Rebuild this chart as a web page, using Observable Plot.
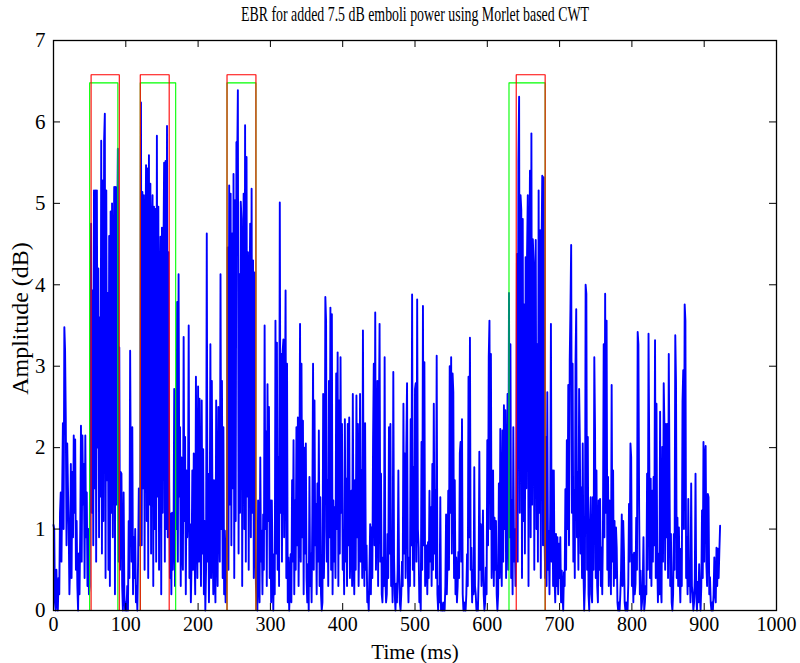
<!DOCTYPE html>
<html><head><meta charset="utf-8">
<script src="https://cdn.jsdelivr.net/npm/d3@7"></script>
<script src="https://cdn.jsdelivr.net/npm/@observablehq/plot@0.6"></script>
<style>
html,body{margin:0;padding:0;background:#fff;}
</style></head><body>
<div id="chart"></div>
<script>
const titleText = "EBR for added 7.5 dB emboli power using Morlet based CWT";
const xLabel = "Time (ms)";
const yLabel = "Amplitude (dB)";
const xTicks = [0, 100, 200, 300, 400, 500, 600, 700, 800, 900, 1000];
const yTicks = [0, 1, 2, 3, 4, 5, 6, 7];

// EBR amplitude (dB), one sample per millisecond starting at 0 ms
const timeStepMs = 1;
const amplitude = [
1.05,1.0,0.1,0.0,0.5,0.1,0.0,0.4,0.2,1.2,
1.45,0.6,1.45,2.3,1.0,3.48,3.2,2.35,0.8,2.05,
1.5,1.05,0.2,0.6,1.8,0.4,1.7,0.9,2.15,1.2,
2.1,0.5,1.1,0.3,0.0,0.7,0.2,1.0,2.27,0.6,
2.15,1.3,1.8,0.4,2.15,0.9,1.45,0.3,1.0,0.2,
0.3,3.0,4.75,1.2,3.93,0.8,5.16,1.5,5.16,0.6,
5.16,2.0,4.2,0.9,3.6,1.4,5.77,0.7,5.28,1.1,
5.77,6.1,0.4,5.16,1.6,3.9,0.5,4.6,0.3,4.9,
1.2,5.0,0.9,4.1,5.2,0.2,5.2,1.3,4.4,5.67,
0.6,3.23,0.5,1.7,1.68,0.3,0.0,1.45,0.2,0.0,
0.1,0.0,0.3,0.0,1.1,0.4,3.19,1.5,0.6,2.25,
0.2,0.9,0.4,1.0,0.1,0.3,0.0,0.6,1.5,0.8,
1.2,6.24,0.8,5.14,1.5,5.1,0.5,4.2,5.47,1.1,
5.43,0.4,5.59,1.3,5.24,0.7,4.6,5.1,0.3,4.96,
1.0,4.93,0.6,5.83,1.4,4.96,0.5,3.8,4.59,0.2,
4.7,1.2,4.3,5.5,0.6,5.52,1.0,5.95,0.9,4.4,
1.6,0.4,1.19,0.2,1.2,0.5,0.9,2.72,0.3,2.7,
1.0,3.79,0.6,4.13,1.4,2.25,0.3,1.88,0.8,0.5,
3.36,1.1,2.13,0.2,1.72,0.9,1.3,3.5,0.4,1.06,
0.1,0.6,1.72,0.5,1.93,0.8,0.2,2.87,1.2,0.4,
2.75,0.6,2.6,1.0,0.3,2.58,0.7,1.98,0.2,1.1,
0.0,0.5,4.63,0.6,1.68,0.1,0.9,3.27,0.4,2.82,
1.0,0.2,1.6,0.5,0.1,2.58,0.8,0.3,2.5,1.2,
0.6,4.13,1.0,2.82,0.4,2.25,0.2,0.98,0.1,0.5,
1.0,4.46,0.5,5.22,1.3,5.12,0.8,4.63,1.5,5.36,
0.4,5.04,1.1,5.75,5.4,6.39,0.7,4.13,1.2,5.02,
4.81,0.3,3.9,5.12,1.0,5.96,0.6,5.57,1.4,4.4,
0.5,3.6,4.75,0.9,5.18,1.2,4.3,0.4,4.15,1.0,
0.3,0.2,0.0,1.35,0.4,0.1,1.88,0.6,0.98,0.2,
1.18,0.5,3.5,1.0,2.2,0.3,2.78,1.1,2.5,0.4,
1.35,0.1,1.35,0.5,0.0,0.69,0.2,3.56,0.7,3.29,
0.5,1.88,0.3,5.01,1.2,3.15,0.6,3.19,3.33,0.9,
2.3,3.93,0.4,3.03,0.1,0.65,0.0,0.3,0.69,0.1,
1.6,0.6,2.09,0.2,1.35,0.5,2.25,0.8,2.37,0.3,
1.4,3.52,0.6,3.03,0.9,2.33,0.2,2.0,0.7,2.05,
0.4,0.1,0.57,0.0,1.64,0.3,0.7,0.1,1.2,3.03,
0.5,2.58,0.8,1.31,0.2,1.56,0.6,2.21,0.3,1.39,
0.2,0.0,0.1,2.66,0.4,1.0,3.85,3.56,0.6,1.6,
0.3,2.82,0.9,3.72,0.5,3.64,0.2,1.35,0.6,1.27,
0.4,2.91,1.0,3.17,0.3,2.58,0.7,3.11,1.2,2.29,
0.5,0.94,0.2,2.35,0.6,1.62,0.3,2.29,0.8,2.37,
0.4,0.9,1.47,0.3,2.66,0.7,0.2,1.6,0.5,2.64,
0.9,2.29,0.3,1.0,2.66,0.6,1.72,0.4,3.44,1.0,
0.3,2.3,0.5,0.8,0.1,0.2,0.0,0.5,1.06,0.2,
1.02,0.4,2.09,3.03,0.8,3.66,0.5,1.2,2.82,0.3,
2.21,3.52,0.6,1.68,0.2,0.1,0.65,0.3,3.11,0.4,
0.1,0.2,0.94,0.4,2.25,0.7,2.29,0.3,0.6,0.1,
2.93,0.65,0.2,0.0,0.33,0.1,0.5,1.72,0.45,0.1,
0.0,0.2,0.6,0.3,2.54,0.7,1.93,0.4,2.0,2.79,
0.5,0.1,0.65,0.3,2.35,0.8,3.88,0.5,1.76,0.3,
2.72,2.79,0.6,3.82,1.0,0.77,0.1,0.2,0.0,2.07,
0.5,3.74,0.8,3.05,0.3,0.6,0.8,0.2,0.84,0.4,
1.47,0.6,1.27,0.3,1.8,0.5,2.54,0.7,1.47,0.4,
3.13,0.2,0.0,0.3,0.1,1.39,0.0,0.1,0.0,0.0,
0.1,0.0,0.3,1.18,0.2,0.6,1.47,0.5,3.0,1.2,
3.11,0.7,2.91,2.68,0.4,1.6,0.2,0.65,0.1,0.3,
0.72,0.4,1.93,2.07,0.6,2.35,0.2,0.0,0.1,0.0,
0.0,0.2,0.69,0.3,2.87,0.9,3.35,0.5,0.77,0.1,
0.5,0.2,1.76,0.3,0.2,0.0,0.1,0.0,0.4,1.95,
0.5,1.06,0.3,0.6,1.23,0.2,0.0,0.1,0.53,0.2,
2.09,0.8,3.11,3.56,1.0,3.15,0.4,0.9,1.72,0.3,
1.14,0.5,1.1,0.2,0.0,0.2,1.56,0.4,2.23,0.8,
0.3,2.21,0.6,2.52,1.0,2.46,0.4,1.2,2.66,0.5,
3.9,0.9,3.27,0.4,1.35,0.2,2.25,0.6,1.0,0.3,
1.0,4.38,0.6,5.51,6.31,1.2,5.1,4.92,0.4,4.81,
1.1,3.76,0.7,4.34,1.5,4.38,5.1,0.3,4.0,5.4,
0.9,5.86,1.3,4.56,4.26,0.5,3.9,4.55,1.0,3.27,
0.6,5.16,1.2,4.67,0.4,4.42,5.34,0.8,5.32,1.1,
0.4,2.13,0.3,2.68,0.5,0.98,0.2,1.2,3.52,0.6,
1.72,0.3,1.72,0.4,0.1,0.94,0.3,0.9,0.2,0.82,
0.4,0.9,0.1,0.49,0.2,0.0,0.47,0.3,1.49,0.5,
2.09,1.0,2.77,0.8,3.07,3.7,4.49,1.2,3.03,0.6,
1.47,0.4,3.03,3.7,0.9,1.7,0.5,2.72,2.09,0.7,
1.51,0.4,2.05,0.49,0.0,0.3,4.0,3.89,0.5,2.13,
0.2,0.0,1.06,1.39,0.2,0.1,1.39,0.5,3.11,2.23,
0.4,1.72,0.3,0.1,1.35,0.5,1.37,0.3,0.77,0.2,
1.06,3.27,0.9,3.89,1.2,3.56,0.5,1.64,0.3,1.35,
0.94,0.2,2.77,0.6,1.72,0.3,1.1,0.4,1.02,0.77,
0.1,0.0,0.1,0.0,0.2,0.5,1.18,0.3,1.1,0.72,
0.1,0.0,0.1,0.0,0.0,0.33,1.31,0.6,2.05,1.88,
0.3,0.69,0.1,0.71,0.2,0.33,1.14,0.5,3.42,3.27,
1.27,0.2,0.49,0.0,0.1,0.3,0.9,0.0,0.1,0.3,
0.2,1.68,0.5,3.4,1.93,0.4,1.62,0.3,1.47,0.6,
1.64,0.8,3.32,0.4,2.54,0.65,0.1,0.7,0.2,2.44,
0.3,0.1,2.01,0.6,2.79,2.25,0.5,2.29,0.9,2.29,
0.4,3.15,1.68,0.3,0.94,0.1,0.0,0.2,0.94,0.5,
3.38,2.81,0.4,1.14,0.3,1.02,0.41,0.1,0.76,0.3,
2.56,2.95,1.0,3.76,3.56,0.4,0.9,0.2,1.37,0.3,
0.5,0.1,1.56,0.3,0.2,0.0,0.1,0.4,1.68,0.2,
0.0,0.35,0.1,0.57,0.2,0.0,0.3,1.23,0.4,2.07,
0.6,1.88,2.02,0.57,0.3,1.43,1.39,0.2,0.41,0.1,
0.0,0.1,0.0,0.2,0.65,0.2,0.1,0.77,0.3,0.76,
0.4,0.74,1.04
];

// Detection windows (ms) and their marker levels
const redStart = [52, 120, 240, 640];
const redEnd = [91, 160, 280, 680];
const redLevel = 6.58;
const greenStart = [50, 120, 240, 630];
const greenEnd = [89, 169, 280, 680];
const greenLevel = 6.48;

const W = 800, H = 663;
const mL = 53, mR = 24, mT = 40, mB = 53;
const frameW = W - mL - mR, frameH = H - mT - mB;
const tickLen = 7;

const signal = amplitude.map((v, i) => ({t: i * timeStepMs, v}));
function windows(starts, ends, level, name) {
  const rows = [];
  starts.forEach((s, i) => {
    const k = name + i;
    rows.push({t: s, v: 0, k}, {t: s, v: level, k}, {t: ends[i], v: level, k}, {t: ends[i], v: 0, k});
  });
  return rows;
}
const greenRows = windows(greenStart, greenEnd, greenLevel, "g");
const redRows = windows(redStart, redEnd, redLevel, "r");

const serif = "'Liberation Serif', 'Times New Roman', Times, serif";
const plot = Plot.plot({
  width: W, height: H,
  marginLeft: mL, marginRight: mR, marginTop: mT, marginBottom: mB,
  style: {fontFamily: serif, fontSize: "20px", background: "#fff", color: "#000"},
  x: {domain: [0, 1000]},
  y: {domain: [0, 7]},
  marks: [
    Plot.line(signal, {x: "t", y: "v", stroke: "#0000ff", strokeWidth: 1.9}),
    Plot.line(greenRows, {x: "t", y: "v", z: "k", stroke: "#00ff00", strokeWidth: 1.1}),
    Plot.line(redRows, {x: "t", y: "v", z: "k", stroke: "#ff0000", strokeWidth: 1.1}),
    Plot.ruleX(xTicks, {x: d => d, insetTop: frameH - tickLen, stroke: "#000"}),
    Plot.ruleX(xTicks, {x: d => d, insetBottom: frameH - tickLen, stroke: "#000"}),
    Plot.ruleY(yTicks, {y: d => d, insetRight: frameW - tickLen, stroke: "#000"}),
    Plot.ruleY(yTicks, {y: d => d, insetLeft: frameW - tickLen, stroke: "#000"}),
    Plot.frame({stroke: "#000", strokeWidth: 1.3}),
    Plot.axisX(xTicks, {tickSize: 0, tickPadding: 6, tickFormat: "d", fontSize: 20, label: null}),
    Plot.axisY(yTicks, {tickSize: 0, tickPadding: 8, tickFormat: "d", fontSize: 21, label: null}),
    Plot.text([xLabel], {frameAnchor: "bottom", dy: 42, fontSize: 21, textAnchor: "middle", lineAnchor: "middle"}),
    Plot.text([yLabel], {frameAnchor: "left", rotate: -90, dx: -33, dy: -7, fontSize: 24, textAnchor: "middle", lineAnchor: "middle"}),
    Plot.text([titleText], {frameAnchor: "top", dy: -26, fontSize: 21, textAnchor: "middle", lineAnchor: "middle"})
  ]
});
d3.select(plot).selectAll("text").filter(function () { return this.textContent === titleText; })
  .attr("textLength", 348).attr("lengthAdjust", "spacingAndGlyphs");
document.getElementById("chart").appendChild(plot);
</script>
</body></html>
